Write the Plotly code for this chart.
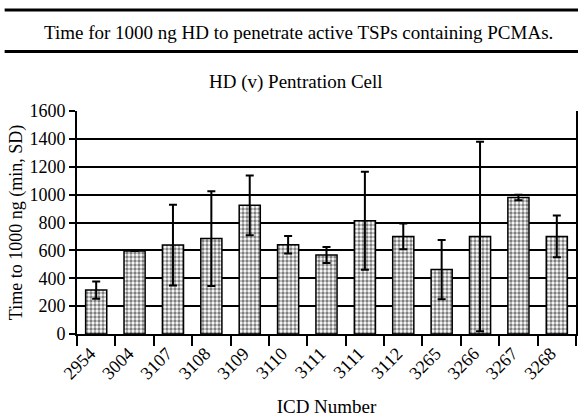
import plotly.graph_objects as go

icd_labels = ["2954", "3004", "3107", "3108", "3109", "3110", "3111", "3111",
              "3112", "3265", "3266", "3267", "3268"]
mean_time = [315, 595, 638, 685, 923, 641, 567, 813, 700, 462, 700, 980, 700]
sd_time = [62, 0, 290, 340, 215, 63, 58, 352, 92, 213, 680, 20, 150]

y_ticks = [0, 200, 400, 600, 800, 1000, 1200, 1400, 1600]

cat_keys = ["c%d" % i for i in range(len(icd_labels))]
serif = "Liberation Serif"

fig = go.Figure()
fig.add_trace(go.Bar(
    x=cat_keys, y=mean_time,
    width=0.55,
    marker=dict(color="white",
                line=dict(color="black", width=1.5),
                pattern=dict(shape=".", fgcolor="black", bgcolor="white",
                             size=4, solidity=0.55)),
    error_y=dict(type="data", array=sd_time, visible=True,
                 color="black", thickness=2, width=4),
))

fig.update_layout(
    width=578, height=417,
    margin=dict(l=77, r=2, t=111, b=83, autoexpand=False),
    paper_bgcolor="white", plot_bgcolor="white",
    showlegend=False,
    font=dict(family=serif, color="black", size=15),
    xaxis=dict(type="category", tickmode="array", tickvals=cat_keys,
               ticktext=icd_labels, tickson="boundaries", automargin=False,
               ticks="outside", ticklen=10, tickwidth=2, tickcolor="black",
               tickangle=-45, tickfont=dict(family=serif, size=18),
               ticklabelshift=-6,
               showline=True, linecolor="black", linewidth=2,
               showgrid=False,
               title=dict(text="ICD Number", font=dict(family=serif, size=19), standoff=21),
               range=[-0.5, len(icd_labels) - 0.5]),
    yaxis=dict(range=[0, 1600], tickvals=y_ticks, automargin=False,
               ticks="outside", ticklen=6, tickwidth=2, tickcolor="black",
               tickfont=dict(family=serif, size=18),
               showline=True, linecolor="black", linewidth=2, mirror=True,
               showgrid=True, gridcolor="black", gridwidth=1.5,
               zeroline=False,
               title=dict(text="Time to 1000 ng (min, SD)",
                          font=dict(family=serif, size=18), standoff=2)),
    shapes=[
        dict(type="line", xref="paper", yref="paper", x0=-0.145, x1=1.01,
             y0=1 + (111 - 10) / 223, y1=1 + (111 - 10) / 223,
             line=dict(color="black", width=3)),
        dict(type="line", xref="paper", yref="paper", x0=-0.145, x1=1.01,
             y0=1 + (111 - 51.5) / 223, y1=1 + (111 - 51.5) / 223,
             line=dict(color="black", width=3)),
    ],
    annotations=[
        dict(text="Time for 1000 ng HD to penetrate active TSPs containing PCMAs.",
             xref="paper", yref="paper", x=(298 - 77) / 499, y=1 + (111 - 32) / 223,
             xanchor="center", yanchor="middle", showarrow=False,
             font=dict(family=serif, size=19)),
        dict(text="HD (v) Pentration Cell",
             xref="paper", yref="paper", x=(296 - 77) / 499, y=1 + (111 - 82) / 223,
             xanchor="center", yanchor="middle", showarrow=False,
             font=dict(family=serif, size=19)),
    ],
)

fig.write_html("out.html", config={"displayModeBar": False},
               post_script="document.body.style.margin='0';")
